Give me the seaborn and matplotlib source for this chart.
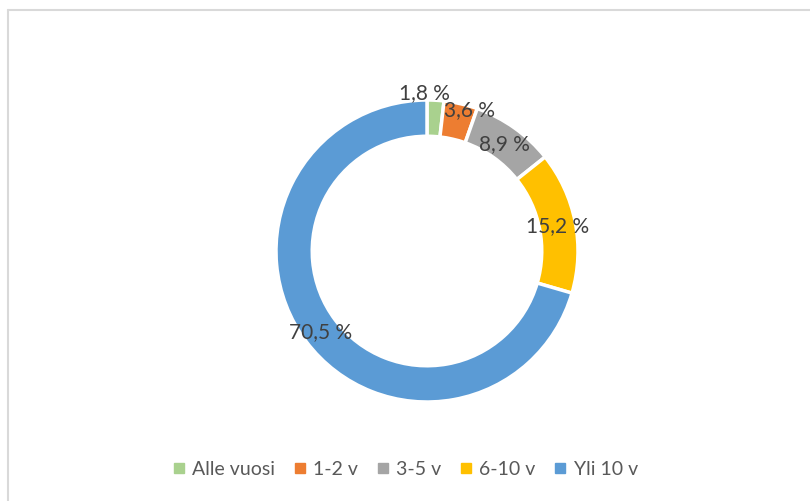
import numpy as np
import matplotlib
matplotlib.use('Agg')
import matplotlib.pyplot as plt
from matplotlib.lines import Line2D
import seaborn as sns

# Kaavion tiedot
categorias = ['Alle vuosi', '1-2 v', '3-5 v', '6-10 v', 'Yli 10 v']
osuudet = [1.8, 3.6, 8.9, 15.2, 70.5]
etiketit = ['1,8 %', '3,6 %', '8,9 %', '15,2 %', '70,5 %']
varit = ['#A9D18E', '#ED7D31', '#A5A5A5', '#FFC000', '#5B9BD5']

sns.set_theme(style='white')
plt.rcParams['font.family'] = ['Lato', 'DejaVu Sans']

W, H = 810, 502
fig = plt.figure(figsize=(W / 100, H / 100), dpi=100)
ax = fig.add_axes([0, 0, 1, 1])

leveys = 0.24
wedges, _ = ax.pie(osuudet, colors=varit, startangle=90, counterclock=False,
                   radius=1, wedgeprops=dict(width=leveys, edgecolor='white', linewidth=2.5))

# keskipiste ja säde pikseleinä
cx, cy, r_px = 427, 252, 151
ax.set_aspect('auto')
ax.set_xlim(-cx / r_px, (W - cx) / r_px)
ax.set_ylim(-(H - cy) / r_px, cy / r_px)
ax.axis('off')

# nimikkeiden sijainti: säde ja pieni kulmasiirto pienille siivuille
r_lab = [1.053, 0.98, 0.88, 0.88, 0.88]
siirto = [4.2, -3.8, 0, 0, 0]
for w, txt, rr, d in zip(wedges, etiketit, r_lab, siirto):
    th = np.deg2rad((w.theta1 + w.theta2) / 2 + d)
    ax.text(rr * np.cos(th), rr * np.sin(th), txt, ha='center', va='center',
            fontsize=15, color='#404040')

# legenda
kahvat = [Line2D([], [], marker='s', linestyle='none', markersize=7,
                 markerfacecolor=c, markeredgecolor=c) for c in varit]
fig.legend(kahvat, categorias, loc='center', ncol=5, frameon=False,
           bbox_to_anchor=(405 / W, 1 - 470 / H), fontsize=14,
           labelcolor='#595959', handlelength=0.7, handletextpad=0.35,
           columnspacing=0.9)

# kaavion reunaviivat
fig.add_artist(Line2D([8 / W, 8 / W], [0, 1 - 11 / H], transform=fig.transFigure,
                      color='#D9D9D9', linewidth=1.5))
fig.add_artist(Line2D([8 / W, 1], [1 - 11 / H, 1 - 11 / H], transform=fig.transFigure,
                      color='#D9D9D9', linewidth=1.5))

fig.savefig('out.png', dpi=100, facecolor='white')
